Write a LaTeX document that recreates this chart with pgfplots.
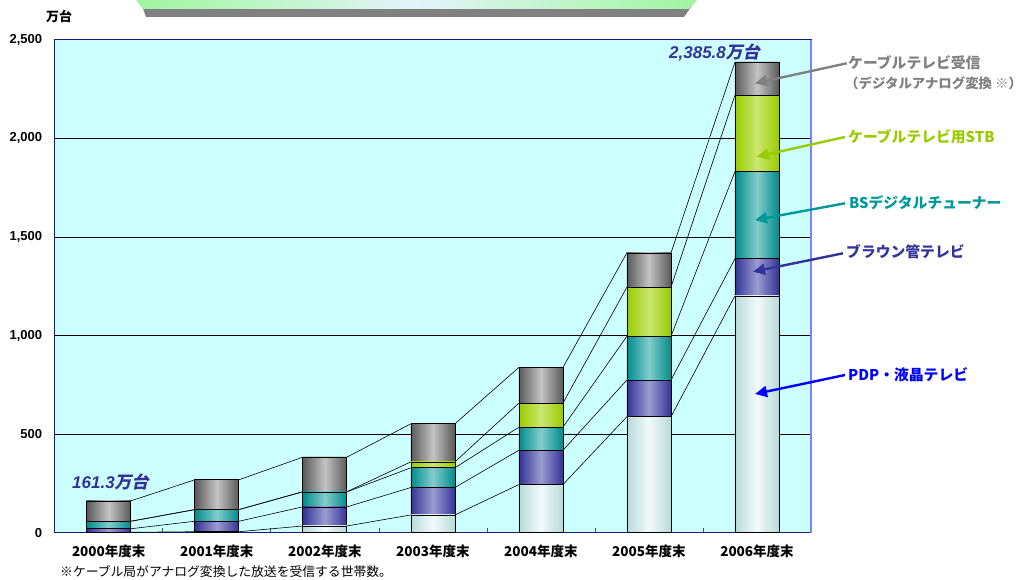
\documentclass[border=0pt]{standalone}
\usepackage{fontspec}
\setmainfont{Liberation Sans}
\newfontfamily\jp{Noto Sans CJK JP}
\newfontfamily\jpsl{Noto Sans CJK JP}[FakeSlant=0.2]
\usepackage{pgfplots}
\usepackage{pgfplotstable}
\pgfplotsset{compat=1.18}
\usetikzlibrary{arrows.meta}

\definecolor{bgc}{HTML}{CCFFFF}
\definecolor{pdpE}{HTML}{B8DADA}
\definecolor{pdpM}{HTML}{F2FAFA}
\definecolor{crtE}{HTML}{333399}
\definecolor{crtM}{HTML}{9C9CD0}
\definecolor{bsE}{HTML}{008C8C}
\definecolor{bsM}{HTML}{84CCCC}
\definecolor{stbE}{HTML}{99CC00}
\definecolor{stbM}{HTML}{CCE670}
\definecolor{cabE}{HTML}{5A5A5A}
\definecolor{cabM}{HTML}{C4C4C4}
\definecolor{frameC}{HTML}{1A1A80}
\definecolor{rightC}{HTML}{8080FF}
\definecolor{grayT}{HTML}{808080}
\definecolor{stbT}{HTML}{99CC00}
\definecolor{bsT}{HTML}{009999}
\definecolor{pdpT}{HTML}{0000FF}
\definecolor{banG}{HTML}{A0F5A0}
\definecolor{banM}{HTML}{E4F4FA}

% 万台
\pgfplotstableread{
x pdp crt bs stb cab
0 2 18 38 0 103.3
1 5 53 59 0 151
2 34 97 76 1 175
3 90 139 100 30 193
4 244 174 117 122 181
5 588 186 222 249 174
6 1201 188 442 387 167.8
}\datatab

% series lines: cumulative boundaries at bar edges
\pgfplotstableread{
x c1 c2 c3 c4 c5
-0.204 2 20 58 58 161.3
0.204 2 20 58 58 161.3
0.796 5 58 117 117 268
1.204 5 58 117 117 268
1.796 34 131 207 208 383
2.204 34 131 207 208 383
2.796 90 229 329 359 552
3.204 90 229 329 359 552
3.796 244 418 535 657 838
4.204 244 418 535 657 838
4.796 588 774 996 1245 1419
5.204 588 774 996 1245 1419
5.796 1201 1389 1831 2218 2385.8
6.204 1201 1389 1831 2218 2385.8
}\linetab

\pgfplotsset{
  common/.style={
    at={(54.7pt,47.3pt)}, anchor=south west,
    scale only axis, width=756.3pt, height=493pt,
    xmin=-0.5, xmax=6.5, ymin=0, ymax=2500,
  },
  seg/.style n args={2}{draw=black, line width=0.7pt,
    left color=#1, right color=#1, middle color=#2},
}

\begin{document}
\begin{tikzpicture}[x=1pt,y=1pt]
\useasboundingbox (0,0) rectangle (1030,580);

% title banner (cut off at top)
\fill[black!50] (146,563) -- (684,563) -- (696,580) -- (140,580) -- cycle;
\shade[left color=banG, right color=banG, middle color=banM]
  (136,580) -- (697,580) -- (689,571) -- (143,571) -- cycle;

\begin{axis}[common,
  axis background/.style={fill=bgc},
  axis line style={draw=frameC, line width=1.2pt},
  ymajorgrids, grid style={black, line width=0.6pt},
  ytick={0,500,...,2500},
  xtick={0,...,6},
  xticklabels={2000年度末,2001年度末,2002年度末,2003年度末,2004年度末,2005年度末,2006年度末},
  minor xtick={0.5,1.5,...,5.5},
  xtick pos=left, ytick pos=left,
  tick align=inside,
  major tick length=0pt, minor tick length=5pt,
  minor tick style={black!70, line width=0.6pt},
  /pgf/number format/assume math mode=true,
  /pgf/number format/1000 sep={,},
  yticklabel style={font=\bfseries\fontsize{13}{15}\selectfont, xshift=-9pt},
  xticklabel style={font=\jp\bfseries\fontsize{13.5}{15}\selectfont, yshift=-9pt},
]
\addplot[black, line width=0.6pt] table[x=x, y=c1] {\linetab};
\addplot[black, line width=0.6pt] table[x=x, y=c2] {\linetab};
\addplot[black, line width=0.6pt] table[x=x, y=c3] {\linetab};
\addplot[black, line width=0.6pt] table[x=x, y=c4] {\linetab};
\addplot[black, line width=0.6pt] table[x=x, y=c5] {\linetab};
\end{axis}

% one stacked axis per year so each bar gets its own shading
\foreach \i in {0,...,6}{
\begin{axis}[common, hide axis, ybar stacked, bar width=44pt,
  x filter/.expression={abs(x-\i)<0.1 ? x : nan}]
\addplot[seg={pdpE}{pdpM}] table[x=x, y=pdp] {\datatab};
\addplot[seg={crtE}{crtM}] table[x=x, y=crt] {\datatab};
\addplot[seg={bsE}{bsM}] table[x=x, y=bs] {\datatab};
\addplot[seg={stbE}{stbM}] table[x=x, y=stb] {\datatab};
\addplot[seg={cabE}{cabM}] table[x=x, y=cab] {\datatab};
\end{axis}
}

\draw[rightC, line width=1.5pt] (811,47.3) -- (811,540.3);

% unit
\node[anchor=center, inner sep=0] at (59,564) {\jp\bfseries\fontsize{13}{15}\selectfont 万台};

% totals
\node[anchor=west, inner sep=0, text=crtE] at (72,98.3)
  {\bfseries\itshape\fontsize{17}{19}\selectfont 161.3{\jpsl 万台}};
\node[anchor=west, inner sep=0, text=crtE] at (669,527.3)
  {\bfseries\itshape\fontsize{17}{19}\selectfont 2,385.8{\jpsl 万台}};

% series labels with arrows
\begin{scope}[line width=2.4pt, -{Triangle[length=12pt,width=11pt]}]
\draw[grayT] (846.7,516.7) -- (755,496.7);
\draw[stbT] (845,443) -- (756.7,423.3);
\draw[bsT] (845,376.7) -- (755,360);
\draw[crtE] (843,326.7) -- (753,308.3);
\draw[pdpT] (845,205) -- (755,186);
\end{scope}
\begin{scope}[every node/.style={anchor=west, inner sep=0, font=\jp\bfseries\fontsize{14.8}{16}\selectfont}]
\node[text=grayT] at (848,517) {ケーブルテレビ受信};
\node[text=grayT, font=\jp\bfseries\fontsize{13.4}{16}\selectfont] at (845,497) {（デジタルアナログ変換 ※）};
\node[text=stbT] at (848,443) {ケーブルテレビ用STB};
\node[text=bsT] at (849,377) {BSデジタルチューナー};
\node[text=crtE] at (846,328) {ブラウン管テレビ};
\node[text=pdpT] at (848,205) {PDP・液晶テレビ};
\end{scope}

% footnote
\node[anchor=west, inner sep=0] at (60,8)
  {\jp\fontsize{12.8}{14}\selectfont ※ケーブル局がアナログ変換した放送を受信する世帯数。};
\end{tikzpicture}
\end{document}
